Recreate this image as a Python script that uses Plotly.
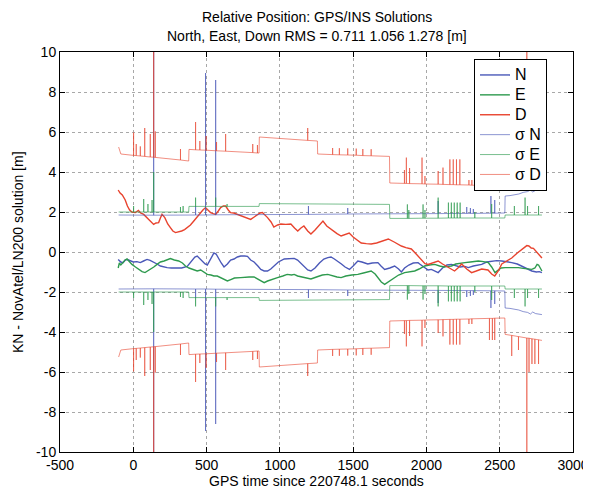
import plotly.graph_objects as go

# ---------------- data ----------------
d_t = [-103,-90,-75,-55,-40,-25,-10,14,35,50,71,90,105,122,139,155,173,185,196,215,235,253,270,288,310,330,350,368,390,413,435,459,475,493,510,527,545,562,580,596,615,630,648,664,685,710,735,756,780,801,825,847,865,881,900,916,940,959,985,1007,1040,1075,1100,1122,1144,1164,1190,1212,1240,1265,1294,1320,1345,1363,1390,1418,1445,1473,1500,1530,1555,1590,1623,1660,1700,1740,1780,1829,1860,1897,1930,1966,1990,2011,2045,2080,2110,2148,2170,2192,2215,2240,2275,2308,2340,2377,2420,2445,2466,2490,2514,2550,2582,2620,2651,2670,2685,2699,2715,2730,2745,2760,2775,2788]
d_v = [3.1,2.95,2.85,2.6,2.3,2.1,2.0,1.97,2.08,1.95,1.88,1.75,1.63,1.5,1.38,1.45,1.47,1.7,1.88,1.72,1.4,1.22,1.05,0.97,1.0,1.05,1.12,1.22,1.35,1.55,1.75,1.97,2.1,2.22,2.1,1.97,1.92,1.88,2.05,2.22,2.3,2.3,2.1,1.97,1.95,1.88,1.8,1.72,1.65,1.63,1.75,1.88,1.95,1.97,1.85,1.72,1.5,1.25,1.35,1.4,1.38,1.4,1.2,1.05,1.2,1.3,1.05,0.9,1.1,1.3,1.55,1.3,1.15,1.05,0.92,0.8,0.88,0.95,0.75,0.6,0.45,0.42,0.4,0.45,0.55,0.65,0.5,0.3,0.22,0.15,-0.1,-0.4,-0.58,-0.62,-0.55,-0.45,-0.6,-0.78,-0.85,-0.95,-0.8,-0.6,-0.85,-1.03,-0.95,-0.85,-0.9,-1.1,-1.2,-0.95,-0.6,-0.45,-0.3,-0.05,0.15,0.25,0.32,0.3,0.2,0.18,0.05,-0.1,-0.2,-0.3]

n_t = [-103,-85,-70,-55,-40,-20,0,25,48,70,94,115,140,162,185,210,231,260,299,330,368,385,402,420,436,455,470,490,505,525,550,565,585,600,619,642,664,687,710,733,760,779,801,824,850,870,893,916,938,961,990,1030,1060,1098,1121,1144,1170,1190,1212,1240,1270,1300,1327,1349,1372,1395,1420,1445,1475,1500,1532,1560,1600,1630,1669,1690,1715,1750,1783,1810,1829,1851,1880,1910,1943,1954,1980,2011,2034,2055,2080,2110,2140,2171,2200,2230,2262,2286,2320,2350,2377,2410,2445,2480,2514,2550,2582,2620,2651,2690,2719,2750,2770,2788]
n_v = [-0.37,-0.5,-0.53,-0.4,-0.38,-0.45,-0.5,-0.48,-0.53,-0.45,-0.37,-0.42,-0.5,-0.6,-0.7,-0.75,-0.78,-0.8,-0.78,-0.8,-0.72,-0.55,-0.37,-0.25,-0.2,-0.35,-0.45,-0.6,-0.65,-0.4,-0.05,-0.1,-0.37,-0.55,-0.75,-0.6,-0.4,-0.35,-0.25,-0.2,-0.2,-0.22,-0.4,-0.5,-0.7,-0.87,-0.95,-0.95,-0.85,-0.7,-0.5,-0.35,-0.33,-0.32,-0.4,-0.55,-0.75,-0.9,-0.95,-0.8,-0.55,-0.35,-0.28,-0.25,-0.35,-0.45,-0.6,-0.75,-0.87,-0.7,-0.45,-0.5,-0.6,-0.55,-0.53,-0.7,-0.87,-0.8,-0.7,-0.85,-1.0,-0.8,-0.65,-0.55,-0.53,-0.6,-0.75,-0.9,-0.87,-0.95,-1.03,-0.8,-0.65,-0.62,-0.7,-0.75,-0.72,-0.78,-0.7,-0.65,-0.62,-0.5,-0.45,-0.43,-0.45,-0.48,-0.53,-0.6,-0.7,-0.85,-0.95,-1.0,-0.98,-1.03]

e_t = [-103,-95,-85,-70,-55,-43,-25,-9,15,37,60,80,100,116,140,162,185,210,231,253,280,310,335,356,380,412,436,460,481,505,530,550,573,600,620,642,665,690,733,760,790,824,850,870,893,916,950,984,1020,1050,1080,1098,1121,1150,1180,1212,1250,1290,1327,1360,1390,1418,1450,1490,1532,1570,1600,1623,1650,1670,1692,1715,1740,1760,1783,1810,1851,1890,1920,1950,1988,2020,2057,2090,2120,2150,2171,2200,2230,2262,2300,2330,2354,2390,2422,2445,2468,2490,2510,2537,2570,2600,2628,2660,2690,2719,2740,2755,2765,2778,2788]
e_v = [-0.8,-0.55,-0.65,-0.5,-0.4,-0.35,-0.5,-0.62,-0.75,-0.87,-0.98,-1.03,-0.95,-0.87,-0.75,-0.62,-0.5,-0.45,-0.4,-0.33,-0.4,-0.45,-0.55,-0.7,-0.8,-0.87,-0.95,-0.9,-1.0,-1.12,-1.15,-1.2,-1.2,-1.3,-1.35,-1.45,-1.38,-1.3,-1.28,-1.25,-1.25,-1.25,-1.35,-1.45,-1.53,-1.45,-1.35,-1.28,-1.2,-1.12,-1.15,-1.12,-1.2,-1.25,-1.3,-1.35,-1.25,-1.15,-1.12,-1.2,-1.25,-1.28,-1.2,-1.15,-1.12,-1.05,-0.98,-0.95,-1.1,-1.3,-1.5,-1.62,-1.5,-1.4,-1.28,-1.15,-1.03,-0.98,-0.95,-0.85,-0.7,-0.65,-0.62,-0.7,-0.75,-0.72,-0.7,-0.6,-0.55,-0.53,-0.5,-0.48,-0.45,-0.48,-0.53,-0.75,-1.03,-0.9,-0.8,-0.78,-0.78,-0.8,-0.78,-0.82,-0.85,-0.87,-0.8,-0.62,-0.65,-0.85,-0.95]

# sigma envelopes (step functions with outlier spikes); drawn as +/- envelope
sn_t = [-100,139,139,139,425,425,425,493,493,493,562,562,562,1195,1195,1195,1463,1463,1463,2080,2080,2080,2275,2275,2275,2300,2300,2300,2320,2320,2320,2440,2440,2440,2466,2466,2466,2535,2537,2570,2600,2630,2660,2690,2710,2725,2745,2765,2788]
sn_v = [1.85,1.84,12,1.84,1.85,2.3,1.85,1.85,8.95,1.85,1.86,8.6,1.86,1.88,2.3,1.88,1.9,2.2,1.9,1.92,2.55,1.92,1.93,2.25,1.93,1.93,2.2,1.93,1.93,2.15,1.93,1.94,2.8,1.94,1.94,2.6,1.94,1.95,2.8,2.82,2.85,2.9,2.98,3.02,3.1,3.0,3.08,3.12,3.13]

se_t = [-100,2,2,2,71,71,71,100,100,100,128,128,128,139,139,139,322,322,322,340,340,340,378,380,425,425,425,562,562,562,640,640,640,858,860,1748,1750,1870,1870,1870,1880,1880,1880,1977,1977,1977,1990,1990,1990,2080,2080,2080,2150,2150,2150,2170,2170,2170,2190,2190,2190,2210,2210,2210,2230,2230,2230,2330,2330,2330,2445,2445,2445,2535,2537,2600,2600,2600,2673,2673,2673,2690,2690,2690,2765,2765,2765,2788]
se_v = [2.0,2.0,2.3,2.0,2.0,2.65,2.0,2.0,2.4,2.0,2.0,2.6,2.0,2.0,4.0,2.0,2.0,2.25,2.0,2.0,2.3,2.0,2.0,2.28,2.28,2.72,2.28,2.28,2.72,2.28,2.28,2.4,2.28,2.28,2.42,2.38,1.68,1.68,2.38,1.68,1.68,2.1,1.68,1.69,2.38,1.69,1.69,2.1,1.69,1.69,2.72,1.69,1.7,2.47,1.7,1.7,2.47,1.7,1.7,2.47,1.7,1.7,2.47,1.7,1.7,2.47,1.7,1.7,2.0,1.7,1.7,2.4,1.7,1.7,1.85,1.85,2.3,1.85,1.85,2.72,1.85,1.85,2.3,1.85,1.85,2.3,1.85,1.85]

sd_t = [-100,-85,2,2,2,20,20,20,48,48,48,78,78,78,116,116,116,139,139,139,150,150,150,322,322,322,378,380,425,425,425,454,454,454,497,497,497,568,568,568,630,630,630,815,815,815,847,847,847,858,860,1190,1190,1190,1256,1258,1360,1360,1360,1406,1406,1406,1463,1463,1463,1521,1521,1521,1566,1566,1566,1623,1623,1623,1748,1750,1850,1850,1850,1863,1863,1863,1885,1885,1885,1970,1970,1970,1990,1990,1990,2080,2080,2080,2113,2113,2113,2160,2160,2160,2183,2183,2183,2205,2205,2205,2228,2228,2228,2290,2290,2290,2310,2310,2310,2430,2430,2430,2450,2450,2450,2466,2466,2466,2535,2537,2582,2582,2582,2628,2628,2628,2685,2685,2685,2700,2700,2700,2720,2720,2720,2740,2740,2740,2765,2765,2765,2788]
sd_v = [5.25,4.9,4.83,5.97,4.83,4.82,5.4,4.82,4.8,5.28,4.8,4.78,6.2,4.78,4.75,5.9,4.75,4.74,12,4.74,4.73,6.03,4.73,4.6,5.15,4.6,4.55,5.13,5.11,6.5,5.11,5.1,5.55,5.1,5.09,5.8,5.09,5.06,5.5,5.06,5.04,5.9,5.04,4.97,5.4,4.97,4.95,5.35,4.95,4.95,5.75,5.58,6.2,5.58,5.55,4.9,4.87,5.2,4.87,4.86,5.19,4.86,4.85,5.18,4.85,4.84,5.17,4.84,4.82,5.15,4.82,4.81,5.14,4.81,4.78,3.45,3.43,4.1,3.43,3.43,4.72,3.43,3.42,4.2,3.42,3.41,4.72,3.41,3.4,3.8,3.4,3.39,4.05,3.39,3.38,4.22,3.38,3.37,4.63,3.37,3.37,4.63,3.37,3.36,4.63,3.36,3.36,4.63,3.36,3.35,3.6,3.35,3.34,3.6,3.34,3.32,4.4,3.32,3.32,4.4,3.32,3.31,4.4,3.31,3.3,4.12,4.17,5.2,4.17,4.23,4.9,4.23,4.3,10.5,4.3,4.31,6.0,4.31,4.34,5.6,4.34,4.36,5.6,4.36,4.39,5.6,4.39,4.42]

x_ticks = [-500, 0, 500, 1000, 1500, 2000, 2500, 3000]
x_ticklabels = ["-500", "0", "500", "1000", "1500", "2000", "2500", "3000"]
y_ticks = [-10, -8, -6, -4, -2, 0, 2, 4, 6, 8, 10]
y_ticklabels = ["-10", "-8", "-6", "-4", "-2", "0", "2", "4", "6", "8", "10"]

series_names = ["N", "E", "D", "σ N", "σ E", "σ D"]
main_colors = ["#4a58b8", "#2e9a4e", "#e8432e"]
sigma_colors = ["rgba(74,88,184,0.8)", "rgba(46,154,78,0.8)", "rgba(232,67,46,0.75)"]

def legend_label(s):
    return '<span style="font-size:16px">' + s + '</span>'

fig = go.Figure()
for name, tx, vy, col in zip(series_names[:3], [n_t, e_t, d_t], [n_v, e_v, d_v], main_colors):
    fig.add_trace(go.Scatter(x=tx, y=vy, mode="lines", name=legend_label(name),
                             line=dict(color=col, width=1.4)))

for name, tx, vy, col in zip(series_names[3:], [sn_t, se_t, sd_t], [sn_v, se_v, sd_v], sigma_colors):
    xs = list(tx) + [None] + list(tx)
    ys = list(vy) + [None] + [-v for v in vy]
    fig.add_trace(go.Scatter(x=xs, y=ys, mode="lines", name=legend_label(name),
                             line=dict(color=col, width=0.8)))

font_family = "Liberation Sans, Arial, Helvetica, sans-serif"
axis_common = dict(showline=True, linecolor="black", linewidth=1, mirror="ticks",
                   ticks="inside", ticklen=5, tickcolor="black", automargin=False,
                   showgrid=True, gridcolor="#a8a8a8", griddash="dot", gridwidth=1,
                   zeroline=False, tickfont=dict(size=14, color="black"))

# page body has an 8px default margin, so the figure is sized 8px smaller
fig.update_layout(
    width=583, height=484,
    margin=dict(l=52, r=18, t=44, b=40),
    paper_bgcolor="white", plot_bgcolor="white",
    font=dict(family=font_family, size=14, color="black"),
    xaxis=dict(range=[-500, 3000], tickmode="array", tickvals=x_ticks, ticktext=x_ticklabels,
               **axis_common),
    yaxis=dict(range=[-10, 10], tickmode="array", tickvals=y_ticks, ticktext=y_ticklabels,
               **axis_common),
    legend=dict(x=0.807, y=0.9825, xanchor="left", yanchor="top",
                bgcolor="white", bordercolor="black", borderwidth=1,
                font=dict(size=13, color="black"), tracegroupgap=0),
    showlegend=True,
    annotations=[
        dict(text="Relative Position: GPS/INS Solutions", xref="paper", yref="paper",
             x=0.5, y=1.0875, xanchor="center", yanchor="middle", showarrow=False,
             font=dict(size=14)),
        dict(text="North, East, Down RMS = 0.711 1.056 1.278 [m]", xref="paper", yref="paper",
             x=0.5, y=1.04, xanchor="center", yanchor="middle", showarrow=False,
             font=dict(size=14)),
        dict(text="GPS time since 220748.1 seconds", xref="paper", yref="paper",
             x=0.5, y=-0.0725, xanchor="center", yanchor="middle", showarrow=False,
             font=dict(size=14)),
        dict(text="KN - NovAtel/LN200 solution [m]", xref="paper", yref="paper",
             x=-0.0819, y=0.5, xanchor="center", yanchor="middle", showarrow=False,
             textangle=-90, font=dict(size=14)),
    ],
)

fig.write_html("out.html")
